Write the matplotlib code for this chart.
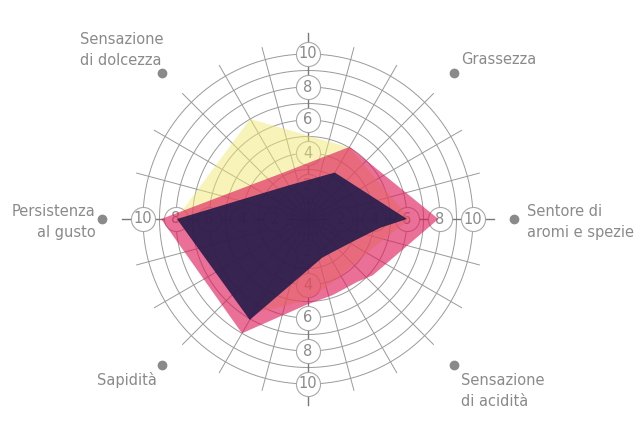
import matplotlib

matplotlib.use("Agg")
import matplotlib.pyplot as plt
import numpy as np

# Category labels sit around the chart at these angles (deg)
categories = ["Sentore di\naromi e spezie", "Grassezza", "Sensazione\ndi dolcezza",
              "Persistenza\nal gusto", "Sapidità", "Sensazione\ndi acidità"]
label_angles = [0, 45, 135, 180, 225, 315]
ticks = [2, 4, 6, 8, 10]

# Series outlines: angle (deg) -> value
yellow_theta = [0, 60, 120, 180, 240, 265, 279, 300, 311, 336]
yellow_r = [6.2, 5.0, 7.0, 8.0, 6.6, 5.05, 4.48, 4.0, 3.9, 4.31]
pink_theta = [0, 60, 120, 180, 240, 269, 288, 308, 319]
pink_r = [7.9, 5.05, 3.2, 8.9, 8.0, 5.2, 4.85, 4.84, 5.2]
dark_theta = [0, 60, 120, 180, 240, 290, 307, 337, 353]
dark_r = [6.0, 3.25, 2.35, 7.94, 7.06, 2.5, 2.5, 3.2, 4.4]

GRID = "#9a9a9a"
TXT = "#8a8a8a"

fig = plt.figure(figsize=(6.36, 4.34), dpi=100)
# centre at (308, 219) px, 16.5 px per unit, rmax 13
ax = fig.add_axes([93.5 / 636, 0.5 / 434, 429 / 636, 429 / 434], projection="polar")
ax.set_ylim(0, 13)
ax.axis("off")

full = np.linspace(0, 2 * np.pi, 361)
for r in range(1, 11):
    ax.plot(full, np.full_like(full, r), color=GRID, lw=0.7, zorder=1)
for a in range(0, 360, 15):
    if a % 90 == 0:
        continue
    ax.plot([np.radians(a)] * 2, [0, 10.75], color=GRID, lw=0.7, zorder=1)
for a in (0, 90, 180, 270):
    ax.plot([np.radians(a)] * 2, [0, 11.3], color="#7a7a7a", lw=1.0, zorder=1.5)

# circled tick labels along the four main axes
for a in (0, 90, 180, 270):
    th = np.radians(a)
    ax.scatter([th] * len(ticks), ticks, s=300, facecolor="white",
               edgecolor="#a8a8a8", linewidth=0.8, zorder=2)
    for t in ticks:
        ax.text(th, t, str(t), ha="center", va="center", fontsize=10.5,
                color=TXT, zorder=2.1)


def closed(theta, r):
    th = np.radians(list(theta) + [theta[0]])
    return th, list(r) + [r[0]]


ax.fill(*closed(yellow_theta, yellow_r), color="#f0e874", alpha=0.5, lw=0, zorder=3)
ax.fill(*closed(pink_theta, pink_r), color="#df1859", alpha=0.62, lw=0, zorder=4)
ax.fill(*closed(dark_theta, dark_r), color="#1e1a4a", alpha=0.88, lw=0, zorder=5)

# category dots + labels
specs = {
    0: dict(xytext=(13, -3), ha="left", va="center", multialignment="left"),
    45: dict(xytext=(7, 14), ha="left", va="center", multialignment="left"),
    135: dict(xytext=(1, 23), ha="right", va="center", multialignment="left"),
    180: dict(xytext=(-6, -3), ha="right", va="center", multialignment="right"),
    225: dict(xytext=(-5, -15), ha="right", va="center", multialignment="right"),
    315: dict(xytext=(7, -26), ha="left", va="center", multialignment="left"),
}
for lab, a in zip(categories, label_angles):
    th = np.radians(a)
    ax.plot([th], [12.5], "o", ms=6, color=TXT, clip_on=False, zorder=6)
    ax.annotate(lab, (th, 12.5), textcoords="offset pixels", fontsize=10.5,
                color=TXT, linespacing=1.45, annotation_clip=False, **specs[a])

fig.savefig("out.png", dpi=100)
